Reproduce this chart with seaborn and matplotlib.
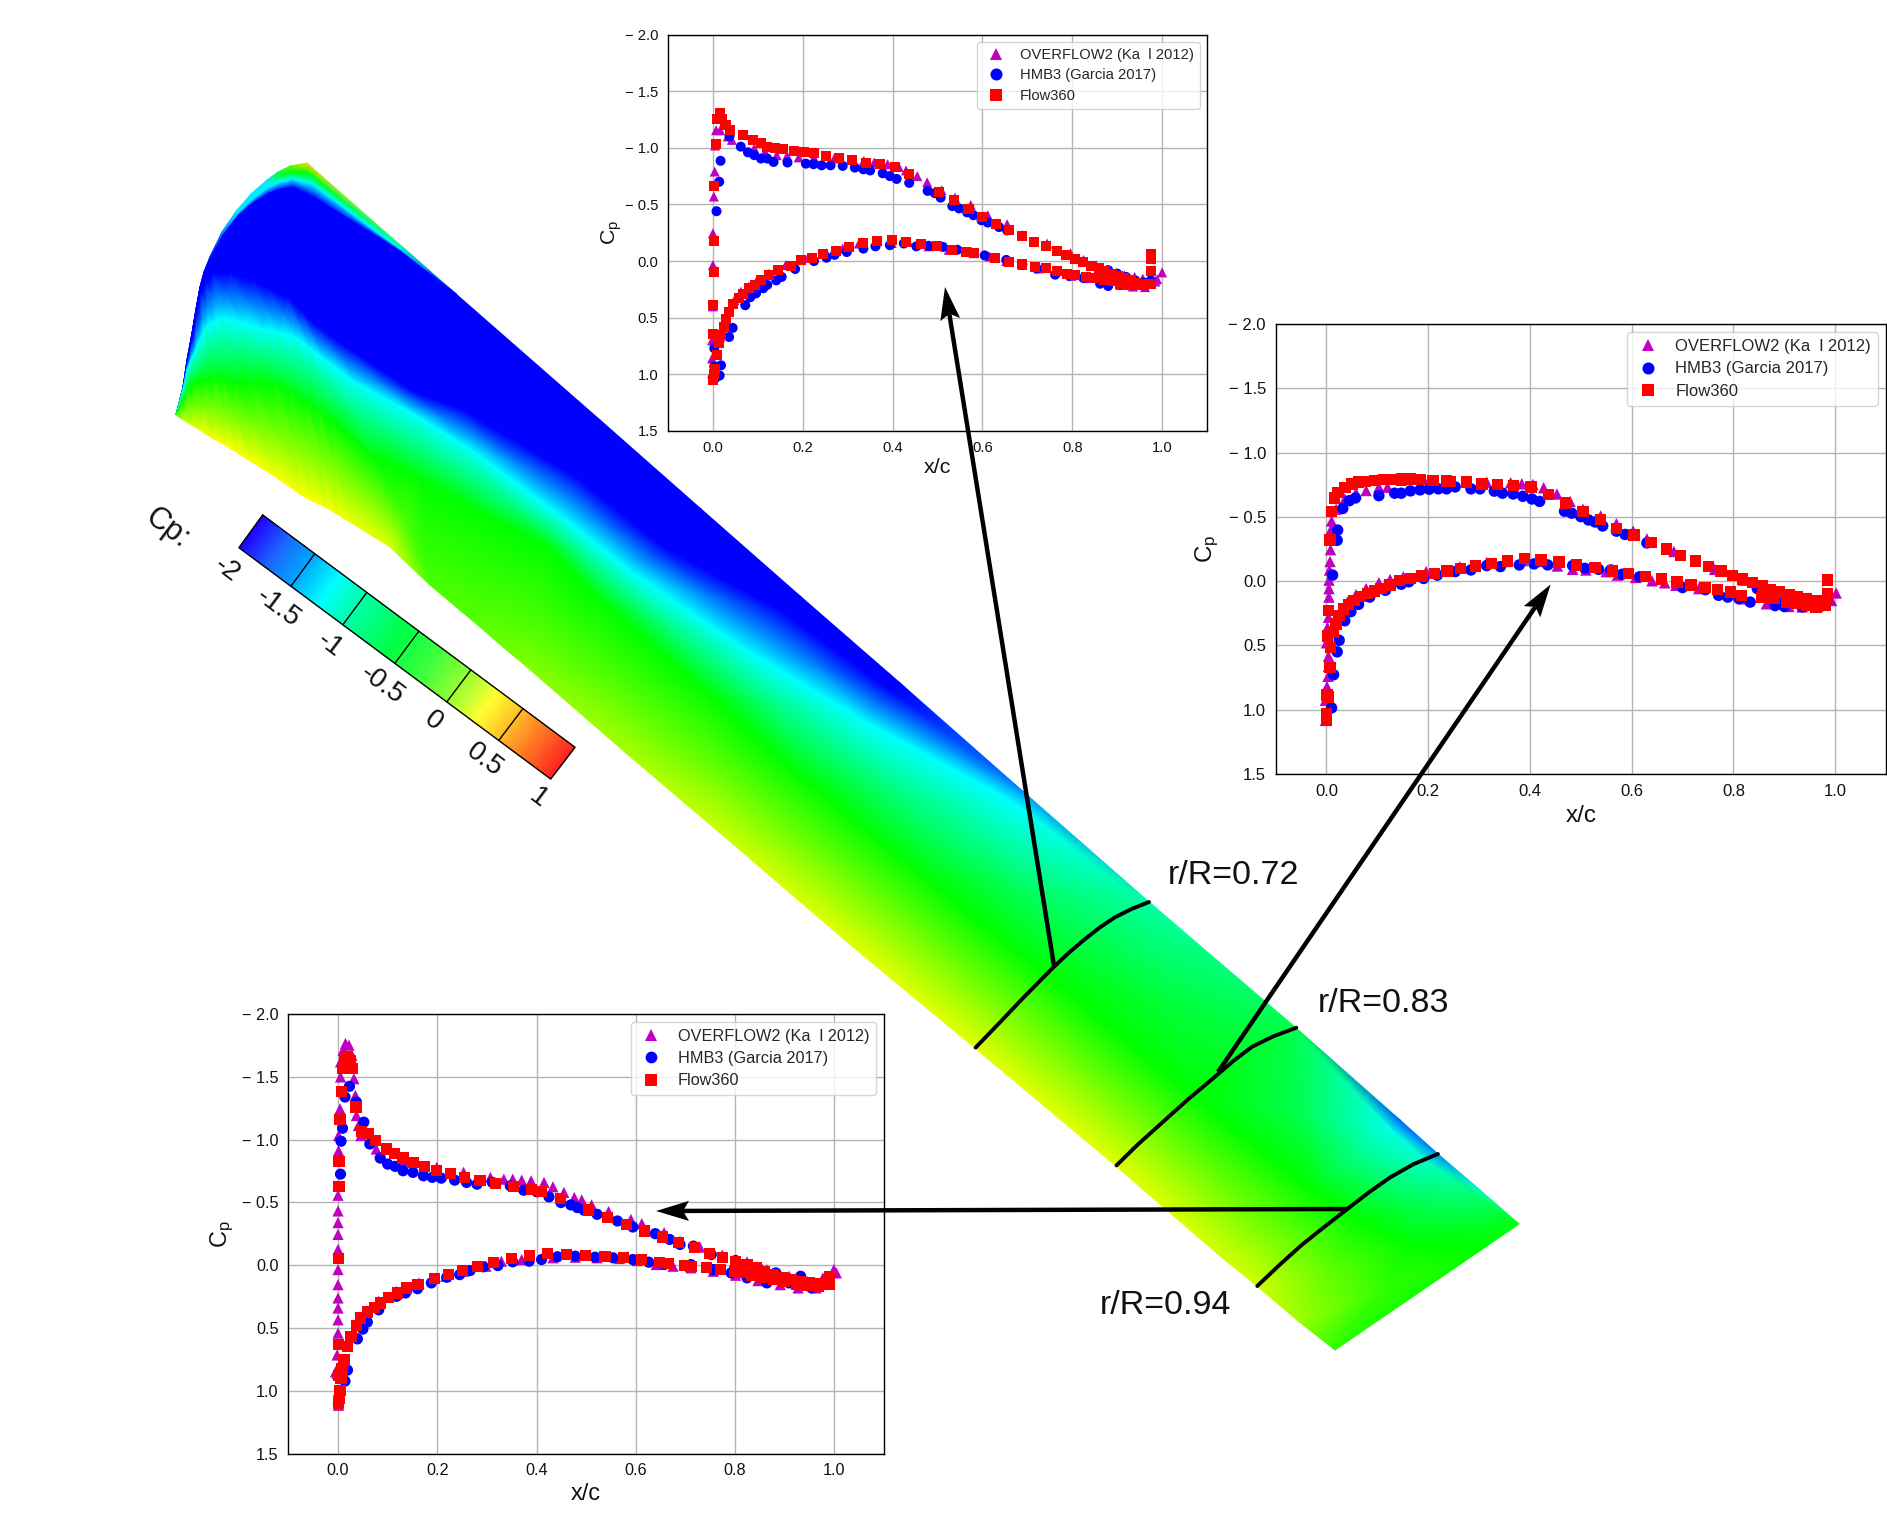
# Surface pressure on the blade with Cp sections at three radial stations
import numpy as np
import pandas as pd
import seaborn as sns
import matplotlib.pyplot as plt
from matplotlib.colors import LinearSegmentedColormap, Normalize

W, H = 1887, 1525

# ---- section data ----
# r/R = 0.72
ovf_x_72 = [-.002,-.002,-.002,0,0,0,.002,.004,.005,.007,.016,.033,.042,.092,.116,.142,.165,.191,.225,.27,.307,.336,.359,.389,.414,.43,.455,.477,.509,.539,.574,.612,.655,.689,.744,.796,.825,.853,.877,.898,.916,.939,.957,.975,1.0,.989,
            .985,.962,.935,.907,.871,.835,.798,.762,.725,.689,.653,.616,.58,.525,.48,.435,.398,.362,.325,.289,.253,.212,.162,.125,.098,.08,.062,.048,.035,.024,.016]
ovf_y_72 = [.99,.86,.7,.4,.035,-.245,-.57,-.79,-1.02,-1.155,-1.155,-1.1,-1.07,-.995,-.965,-.935,-.93,-.915,-.915,-.905,-.897,-.885,-.87,-.855,-.83,-.8,-.75,-.695,-.625,-.56,-.495,-.405,-.325,-.23,-.155,-.07,-.01,.035,.08,.11,.125,.14,.155,.15,.10,.16,
            .18,.23,.225,.21,.18,.15,.13,.095,.065,.035,0,-.04,-.07,-.1,-.13,-.17,-.16,-.17,-.155,-.11,-.07,-.03,.035,.11,.17,.225,.27,.345,.445,.55,.67]
hmb_x_72 = [.008,.014,.017,.037,.062,.078,.092,.107,.121,.135,.166,.207,.224,.242,.262,.289,.316,.335,.35,.378,.394,.409,.437,.478,.494,.507,.533,.548,.566,.58,.598,.612,.637,.655,.88,.9,.92,.94,.96,
            .975,.944,.907,.88,.862,.825,.794,.762,.721,.689,.653,.605,.571,.544,.512,.48,.453,.425,.394,.362,.335,.298,.271,.253,.225,.183,.153,.141,.121,.112,.096,.083,.072,.044,.036,.018,.015,.005,.003,.003]
hmb_y_72 = [-.44,-.7,-.885,-1.1,-1.01,-.96,-.935,-.905,-.905,-.875,-.87,-.86,-.855,-.845,-.845,-.84,-.825,-.81,-.80,-.775,-.75,-.725,-.69,-.62,-.6,-.56,-.485,-.465,-.43,-.405,-.36,-.34,-.3,-.27,.08,.11,.14,.17,.19,
            .17,.21,.21,.22,.2,.15,.13,.12,.065,.03,-.01,-.05,-.08,-.1,-.125,-.135,-.13,-.155,-.14,-.13,-.11,-.08,-.055,-.03,0,.07,.14,.17,.21,.24,.285,.32,.39,.59,.67,.92,1.01,1.035,.77,.93]
f360_x_72 = [.001,.002,.005,.01,.014,.001,.001,.002,.002,.003,.006,.009,.015,.02,.028,
             .039,.066,.089,.107,.121,.139,.157,.18,.203,.225,.252,.28,.31,.341,.373,.405,.437,.503,.537,.569,.6,.63,.659,.689,.715,.741,.765,.787,.806,.824,.842,.859,.872,.889,.902,.916,.93,.943,.957,.975,.975,.975,
             .975,.96,.943,.925,.906,.889,.871,.853,.83,.807,.789,.766,.741,.716,.689,.66,.628,.582,.564,.532,.498,.464,.43,.398,.365,.335,.303,.273,.245,.22,.197,.174,.144,.125,.107,.094,.08,.066,.057,.045,.036,.03,.024,.018,.014,.009]
f360_y_72 = [1.05,1.0,.95,.83,.72,.64,.39,.1,-.18,-.66,-1.03,-1.25,-1.31,-1.25,-1.2,
             -1.16,-1.11,-1.07,-1.04,-1.01,-1.0,-.99,-.97,-.96,-.95,-.93,-.91,-.89,-.87,-.86,-.83,-.77,-.61,-.54,-.46,-.39,-.33,-.27,-.22,-.17,-.13,-.09,-.05,-.02,.01,.04,.06,.09,.11,.13,.15,.17,.19,.2,.2,-.02,-.06,
             .09,.21,.21,.21,.2,.18,.17,.15,.14,.12,.11,.09,.06,.05,.03,.01,-.03,-.07,-.08,-.1,-.13,-.15,-.17,-.19,-.18,-.16,-.12,-.09,-.06,-.03,-.01,.04,.08,.12,.17,.21,.24,.29,.33,.38,.45,.51,.58,.65,.72,.83]

# r/R = 0.83
ovf_x_83 = [-.002,-.002,.001,.003,.004,.004,0,.002,.004,.005,.005,.005,.006,.007,.008,.009,.01,.019,.036,.058,.078,.103,.12,
            .147,.191,.244,.315,.362,.384,.406,.427,.453,.479,.504,.539,.57,.603,.63,.683,.763,.82,.86,.904,.94,.971,1.002,.993,
            .935,.909,.865,.82,.776,.732,.687,.665,.64,.608,.572,.55,.51,.484,.454,.422,.386,.351,.315,.262,.196,.151,.125,.103,.078,.058,.041,.027]
ovf_y_83 = [1.083,.926,.82,.74,.663,.584,.479,.36,.281,.124,.058,-.008,-.087,-.153,-.245,-.402,-.468,-.56,-.639,-.686,-.705,-.731,-.731,
            -.784,-.789,-.77,-.77,-.765,-.757,-.752,-.726,-.678,-.62,-.56,-.507,-.447,-.389,-.329,-.231,-.092,-.008,.058,.11,.137,.15,.092,.15,
            .2,.197,.176,.137,.097,.058,.032,.013,-.003,-.029,-.047,-.074,-.087,-.092,-.118,-.153,-.16,-.153,-.145,-.113,-.074,-.034,-.013,.013,.058,.105,.163,.229]
hmb_x_83 = [.01,.014,.021,.025,.012,.021,.022,.032,.045,.057,.103,.134,.147,.165,.184,.202,.22,.236,.253,.284,.302,.33,.346,.367,.386,.404,.419,.468,.482,.5,.515,.528,.543,.57,.587,.63,.847,.865,.891,.918,.944,.971,
            .935,.9,.882,.833,.811,.789,.771,.745,.7,.616,.581,.559,.535,.508,.484,.435,.408,.379,.342,.315,.284,.253,.218,.191,.162,.147,.116,.085,.063,.048,.036]
hmb_y_83 = [.986,.728,.55,.46,-.047,-.318,-.397,-.565,-.626,-.647,-.665,-.684,-.684,-.702,-.71,-.715,-.718,-.718,-.733,-.718,-.718,-.7,-.684,-.678,-.66,-.639,-.62,-.544,-.529,-.502,-.476,-.46,-.429,-.389,-.363,-.297,.058,.084,.137,.163,.19,.197,
            .2,.197,.19,.163,.137,.124,.11,.066,.05,-.034,-.053,-.087,-.092,-.1,-.121,-.126,-.134,-.126,-.113,-.121,-.087,-.074,-.047,-.021,.005,.024,.071,.124,.181,.237,.308]
f360_x_83 = [0,0,.001,.004,.008,.002,.007,.004,.007,.01,.016,.023,.036,.05,.063,.076,.094,.112,.129,.147,.165,.185,.209,.236,.244,.275,.306,.336,.368,.402,.437,.47,.504,.539,.57,.605,.638,.668,.696,.725,.751,.776,.798,.818,.838,.857,.873,.891,.909,.926,.944,.962,.98,.985,.985,
             .98,.962,.944,.926,.904,.88,.856,.816,.794,.769,.744,.717,.689,.659,.627,.594,.562,.528,.492,.457,.422,.389,.356,.324,.293,.264,.237,.212,.188,.165,.144,.125,.107,.094,.081,.067,.054,.043,.034,.025,.019,.014]
f360_y_83 = [1.083,1.03,.886,.9,.518,.426,.67,.23,-.32,-.54,-.645,-.69,-.73,-.757,-.77,-.775,-.784,-.789,-.79,-.794,-.794,-.789,-.784,-.778,-.773,-.77,-.757,-.75,-.744,-.731,-.673,-.607,-.542,-.479,-.41,-.358,-.302,-.25,-.2,-.155,-.113,-.079,-.042,-.016,.01,.039,.066,.084,.105,.124,.139,.15,.15,.097,-.008,
             .19,.2,.19,.176,.163,.137,.129,.11,.084,.066,.05,.03,.008,-.016,-.037,-.06,-.08,-.105,-.126,-.15,-.166,-.174,-.158,-.139,-.118,-.097,-.079,-.06,-.04,-.02,-.003,.03,.058,.076,.097,.118,.15,.18,.216,.268,.334,.4]

# r/R = 0.94
ovf_x_94 = [.001,0,0,-.002,-.002,0,0,0,0,0,0,0,0,0,0,0,0,.001,.001,.004,.005,.005,.01,.015,.022,.028,.032,.035,.037,.041,.046,.077,
            .131,.199,.253,.307,.334,.352,.37,.389,.415,.433,.455,.476,.491,.511,.545,.59,.612,.657,.689,.729,.774,.824,.864,.909,.945,.977,.999,1.004,
            .963,.927,.891,.846,.801,.756,.711,.675,.641,.603,.567,.522,.478,.433,.37,.329,.298,.253,.217,.163,.118,.082,.05,.032,.019,.005,-.005]
ovf_y_94 = [1.115,1.06,1.008,.861,.715,.541,.435,.341,.261,.155,.035,-.125,-.245,-.339,-.432,-.557,-.632,-.912,-1.032,-1.245,-1.499,-1.619,-1.712,-1.765,-1.752,-1.672,-1.485,-1.352,-1.192,-1.112,-1.032,-.925,
            -.832,-.779,-.739,-.699,-.685,-.685,-.677,-.672,-.659,-.624,-.579,-.539,-.52,-.48,-.427,-.365,-.331,-.259,-.192,-.144,-.08,-.027,.035,.088,.128,.101,.035,.061,
            .181,.181,.155,.123,.08,.048,.021,.008,-.005,-.037,-.053,-.059,-.064,-.059,-.045,-.032,.008,.048,.088,.141,.208,.288,.421,.528,.635,.795,.848]
hmb_x_94 = [.003,.014,.014,.005,.006,.009,.014,.023,.037,.052,.064,.085,.1,.115,.131,.151,.172,.19,.208,.235,.259,.28,.311,.347,.374,.401,.425,.449,.469,.482,.496,.522,.563,.594,.639,.668,.689,.716,.752,.801,.846,.882,.909,.932,.954,.98,
            .864,.824,.792,.756,.711,.657,.626,.594,.554,.518,.478,.442,.41,.385,.352,.322,.293,.266,.245,.219,.188,.16,.136,.118,.082,.059,.05,.039,.019]
hmb_y_94 = [1.02,.923,.835,-.725,-.987,-1.09,-1.339,-1.424,-1.299,-1.139,-.965,-.853,-.805,-.787,-.752,-.739,-.712,-.699,-.693,-.677,-.659,-.645,-.659,-.632,-.597,-.584,-.544,-.499,-.48,-.459,-.437,-.405,-.352,-.304,-.251,-.205,-.165,-.152,-.085,-.037,.021,.061,.141,.088,.181,.141,
            .141,.101,.061,.035,-.005,-.005,-.024,-.045,-.059,-.064,-.072,-.067,-.045,-.032,-.027,.003,.013,.043,.075,.096,.141,.187,.221,.248,.355,.453,.509,.587,.835]
f360_x_94 = [.001,.003,.004,.006,.001,.008,.012,.001,.001,.002,.002,.004,.007,.01,.013,.019,.024,.029,.036,.048,.062,.076,.097,.113,.131,.151,.174,.199,.226,.254,.286,.318,.354,.39,.41,.448,.504,.543,.581,.617,.653,.686,.718,.749,.774,.801,.824,.842,.86,.878,.896,.914,.932,.95,.968,.986,.99,
             .99,.968,.945,.923,.9,.878,.855,.833,.819,.799,.771,.743,.711,.698,.666,.648,.612,.575,.538,.498,.46,.422,.385,.349,.314,.281,.251,.222,.195,.161,.138,.12,.102,.086,.073,.059,.046,.037,.026,.019]
f360_y_94 = [1.10,1.06,1.0,.9,.875,.82,.755,.63,-.053,-.624,-.827,-1.157,-1.384,-1.565,-1.632,-1.66,-1.632,-1.565,-1.259,-1.064,-1.05,-.992,-.925,-.89,-.853,-.819,-.787,-.752,-.731,-.699,-.672,-.651,-.629,-.605,-.587,-.533,-.44,-.379,-.325,-.272,-.224,-.179,-.139,-.091,-.064,-.032,-.005,.021,.048,.075,.096,.115,.128,.141,.149,.141,.088,
             .155,.168,.16,.149,.128,.115,.101,.08,.061,.053,.037,.021,.011,0,-.016,-.024,-.043,-.059,-.072,-.08,-.085,-.091,-.077,-.053,-.019,.013,.04,.075,.107,.155,.181,.221,.256,.301,.336,.373,.421,.48,.568,.648]

# ---- blade surface, one row per span station: edge points and where the Cp bands sit across the chord ----
le_x = [176,183,187,192,196,200,204,210,222,237,251,267,278,290,307,400,456,600,701,800,900,1027,1149,1296,1400,1438,1480,1519]
le_y = [415,387,360,333,309,287,272,257,232,210,194,180,172,166,163,245,294,420,509,596,683,795,902,1028,1120,1154,1190,1224]
te_x = [176,182,190,200,212,225,236,250,274,300,312,325,337,350,390,430,480,503,527,626,726,853,975,1116,1220,1257,1297,1335]
te_y = [415,419,424,430,438,445,452,461,476,494,501,507,514,522,547,585,627,647,667,753,838,947,1048,1166,1256,1286,1320,1350]
cp_edge = [-.6,-1.2,-1.9,-2,-2,-2,-2,-1.9,-1.6,-1.3,-1.3,-1.3,-.8,-.3,.4,-1.0,-2,-2,-2,-2,-1.9,-1.55,-1.05,-.8,-1.7,-1.6,-1.1,-.7]
t_blue0 = [0,.02,.02,.02,.01,.01,.01,.01,.015,.02,.03,.04,.05,.06,.09,.02,0,0,0,0,0,0,0,0,0,0,0,0]
t_blue1 = [0,.03,.04,.06,.05,.04,.06,.08,.17,.25,.31,.36,.41,.45,.48,.43,.35,.25,.23,.10,.05,0,0,0,0,0,0,0]
t_cyan = [.02,.06,.13,.22,.24,.25,.28,.30,.37,.42,.45,.48,.51,.54,.57,.50,.46,.418,.40,.33,.23,.06,.02,.01,.06,.06,.03,0]
cp_cyan = [-1.25,-1.25,-1.25,-1.25,-1.25,-1.25,-1.25,-1.25,-1.25,-1.25,-1.25,-1.25,-1.25,-1.25,-1.25,-1.25,-1.25,-1.25,-1.25,-1.25,-1.25,-1.25,-1.0,-.8,-1.2,-1.1,-.9,-.65]
t_green = [.3,.42,.45,.5,.55,.58,.6,.62,.62,.62,.65,.68,.70,.72,.76,.69,.64,.555,.58,.574,.585,.56,.54,.53,.5,.47,.4,.2]
cp_te = [-.3,.05,.13,.2,.24,.27,.27,.27,.26,.25,.25,.24,.23,.22,.15,-.35,-.3,-.22,-.16,-.02,.1,.17,.17,.17,.13,.1,-.05,-.45]

# r/R cuts on the blade
cut_72_x = [975.6,999.8,1022.7,1038,1053.3,1068.6,1084,1099.3,1114.6,1131.8,1149]
cut_72_y = [1047.6,1022.5,998.4,982.9,967.4,953,939.9,927.8,917.5,908.9,902]
cut_83_x = [1116.5,1137.5,1160.5,1187.3,1216,1233.2,1252.3,1273.4,1296.3]
cut_83_y = [1165.4,1144.8,1124.1,1100,1075.9,1061.1,1046.6,1036.3,1027.7]
cut_94_x = [1257.3,1279.1,1302.1,1325,1348,1369,1390,1413,1437.9]
cut_94_y = [1286,1265.3,1244.6,1226.4,1208.5,1192.3,1177.5,1164.4,1154]

cbar_cp = [-2,-1.75,-1.5,-1.25,-1,-.6,-.25,0,.27,.5,1]
cbar_rgb = ['#1e00ff','#1e64ff','#00aaff','#00ffff','#00ffaa','#00ff46','#46ff3c','#96ff32','#ffff32','#ffbe28','#ff2020']
cbar_ticks = [-1.5,-1,-.5,0,.5]
cbar_labels = ['-2','-1.5','-1','-0.5','0','0.5','1']

x_ticks = [0,.2,.4,.6,.8,1.0]
x_tick_labels = ['0.0','0.2','0.4','0.6','0.8','1.0']
y_ticks = [-2,-1.5,-1,-.5,0,.5,1,1.5]
y_tick_labels = ['\u2212 2.0','\u2212 1.5','\u2212 1.0','\u2212 0.5','0.0','0.5','1.0','1.5']

OVF = 'OVERFLOW2 (Ka  l 2012)'
HMB = 'HMB3 (Garcia 2017)'
F360 = 'Flow360'
colors = {OVF:'#bf00bf', HMB:'#0000ff', F360:'#ff0000'}
marks = {OVF:'^', HMB:'o', F360:'s'}

sns.set_theme(style='whitegrid', rc={'grid.color':'#b4b4b4','grid.linewidth':1.0,'axes.edgecolor':'black',
                                     'axes.linewidth':1.0,'legend.edgecolor':'#cccccc','legend.framealpha':.8})
plt.rcParams['font.family'] = ['Liberation Sans','DejaVu Sans']
plt.rcParams['mathtext.fontset'] = 'custom'
plt.rcParams['mathtext.rm'] = 'Liberation Sans'

cmap = LinearSegmentedColormap.from_list('cp', [(0,'#0000ff'),(.25,'#00ffff'),(.4667,'#00ff00'),(.7567,'#ffff00'),(1,'#ff2020')])
norm = Normalize(-2,1)
bar_pos = [(v+2)/3 for v in cbar_cp]
bar_cmap = LinearSegmentedColormap.from_list('cpbar', list(zip(bar_pos,cbar_rgb)))

fig = plt.figure(figsize=(W/100,H/100), dpi=100, facecolor='white')
bg = fig.add_axes([0,0,1,1])
bg.set_xlim(0,W)
bg.set_ylim(H,0)
bg.axis('off')

# blade: mesh rows follow the Cp bands so the shading stays smooth
lx, ly, tx, ty = [np.array(a, float) for a in (le_x,le_y,te_x,te_y)]
edge = np.array(cp_edge)
t0 = np.array(t_blue0)
blue = np.where(np.array(t_blue1) > 0, -2.0, edge)
rim_g = np.where(edge > -.6, -.6, edge)
rim_c = np.where(edge > -1.25, -1.25, edge)
rows_t = np.array([np.zeros_like(lx), t0*.3, t0*.6, t0, t_blue1, t_cyan, t_green, np.ones_like(lx)])
rows_c = np.array([edge, rim_g, rim_c, blue, blue, cp_cyan, np.full_like(lx,-.6), cp_te])
bg.pcolormesh(lx + rows_t*(tx-lx), ly + rows_t*(ty-ly), rows_c, shading='gouraud', cmap=cmap, norm=norm, rasterized=True)

for cx, cy in ((cut_72_x,cut_72_y),(cut_83_x,cut_83_y),(cut_94_x,cut_94_y)):
    bg.plot(cx, cy, color='black', lw=2.8, solid_capstyle='round', solid_joinstyle='round')

for txt, px, py in (('r/R=0.72',1234,876),('r/R=0.83',1383,1004),('r/R=0.94',1165,1305)):
    bg.text(px, py, txt, fontsize=24.5, ha='center', va='center', color='#111111')

# colour bar, drawn slanted
a = np.array([262.7,515]); b = np.array([239,547.7]); c = np.array([575,747.3]); d = np.array([550.7,779])
frac = np.array(bar_pos)
bar_x = np.array([a[0]+frac*(c[0]-a[0]), b[0]+frac*(d[0]-b[0])])
bar_y = np.array([a[1]+frac*(c[1]-a[1]), b[1]+frac*(d[1]-b[1])])
bg.pcolormesh(bar_x, bar_y, np.array([cbar_cp,cbar_cp]), shading='gouraud', cmap=bar_cmap, norm=norm)
bg.plot([a[0],c[0],d[0],b[0],a[0]], [a[1],c[1],d[1],b[1],a[1]], color='black', lw=1.0)
for v in cbar_ticks:
    f = (v+2)/3
    bg.plot([a[0]+f*(c[0]-a[0]), b[0]+f*(d[0]-b[0])], [a[1]+f*(c[1]-a[1]), b[1]+f*(d[1]-b[1])], color='black', lw=1.0)
label_xy = [(226.7,570),(278,608),(330,645),(382,685),(433,721),(485,760),(538,798)]
for txt, (px,py) in zip(cbar_labels, label_xy):
    bg.text(px, py, txt, fontsize=20, rotation=-37, rotation_mode='anchor', ha='center', va='center', color='#111111')
bg.text(167, 528, 'Cp:', fontsize=22, rotation=-37, rotation_mode='anchor', ha='center', va='center', color='#111111')


def section_frame(ox, oy, hx, hy, fx, fy):
    rows = [(OVF,x,y) for x,y in zip(ox,oy)] + [(HMB,x,y) for x,y in zip(hx,hy)] + [(F360,x,y) for x,y in zip(fx,fy)]
    return pd.DataFrame(rows, columns=['solver','xc','cp'])


def section_axes(box, df, size, fs, ylab_x, mscale):
    l, r, t, b = box
    ax = fig.add_axes([l/W, 1-b/H, (r-l)/W, (b-t)/H], zorder=2)
    sns.scatterplot(data=df, x='xc', y='cp', hue='solver', style='solver', palette=colors, markers=marks,
                    s=size, linewidth=0, ax=ax)
    ax.set_xlim(-.1,1.1)
    ax.set_ylim(1.5,-2)
    ax.set_xticks(x_ticks, x_tick_labels)
    ax.set_yticks(y_ticks, y_tick_labels)
    ax.tick_params(length=0, pad=7, labelsize=fs, labelcolor='#111111')
    ax.set_xlabel('x/c', fontsize=fs*1.45, color='#111111')
    ax.set_ylabel(r'$\mathregular{C_p}$', fontsize=fs*1.45, color='#111111')
    ax.xaxis.set_label_coords(.5,-.093)
    ax.xaxis.label.set_va('center')
    ax.yaxis.set_label_coords(ylab_x,.5)
    ax.yaxis.label.set_va('center')
    ax.legend(loc='upper right', fontsize=fs, handlelength=1.7, labelspacing=.45, markerscale=mscale)
    for s in ax.spines.values():
        s.set_visible(True)
        s.set_color('black')
    return ax


section_axes((668,1207,34.5,431), section_frame(ovf_x_72,ovf_y_72,hmb_x_72,hmb_y_72,f360_x_72,f360_y_72), 52, 10.6, -.105, 1.2)
section_axes((1275.6,1886,324,774), section_frame(ovf_x_83,ovf_y_83,hmb_x_83,hmb_y_83,f360_x_83,f360_y_83), 68, 12, -.112, 1.05)
section_axes((288.4,884,1014,1453.6), section_frame(ovf_x_94,ovf_y_94,hmb_x_94,hmb_y_94,f360_x_94,f360_y_94), 65, 11.7, -.111, 1.05)

# arrows lie over the insets
top = fig.add_axes([0,0,1,1], zorder=5)
top.set_xlim(0,W)
top.set_ylim(H,0)
top.axis('off')


def arrow(tail, tip):
    tail, tip = np.array(tail,float), np.array(tip,float)
    u = (tip-tail)/np.hypot(*(tip-tail))
    n = np.array([-u[1],u[0]])
    notch = tip-27*u
    top.plot([tail[0],notch[0]], [tail[1],notch[1]], color='black', lw=3.2, solid_capstyle='butt')
    head = np.array([tip, tip-33*u+10*n, notch, tip-33*u-10*n])
    top.fill(head[:,0], head[:,1], color='black', lw=0)


arrow((1054,966),(945,287))
arrow((1218,1072),(1550.6,584.5))
arrow((1348,1209),(656,1211))

fig.savefig('out.png', dpi=100)
